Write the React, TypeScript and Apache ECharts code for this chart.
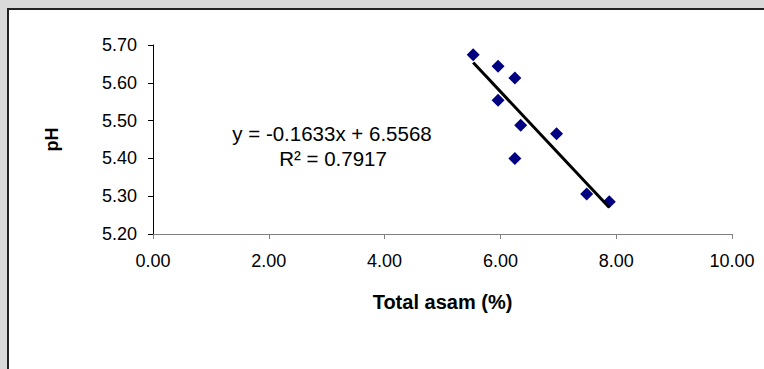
import React, { useEffect, useRef } from "react";
import * as echarts from "echarts";

const totalAsam = [5.53, 5.96, 6.25, 5.96, 6.35, 6.97, 6.25, 7.49, 7.88];
const phValues = [5.674, 5.644, 5.613, 5.554, 5.488, 5.465, 5.4, 5.306, 5.285];
const slope = -0.1633;
const intercept = 6.5568;
const equationText = "y = -0.1633x + 6.5568";
const r2Text = "R² = 0.7917";

const OX = 9;
const OY = 10;

export default function App() {
  const ref = useRef<HTMLDivElement>(null);
  useEffect(() => {
    if (!ref.current) return;
    const chart = echarts.init(ref.current, null, { renderer: "svg" });
    const points = totalAsam.map((x, i) => [x, phValues[i]]);
    const xMin = Math.min(...totalAsam);
    const xMax = Math.max(...totalAsam);
    const trend = [
      [xMin, slope * xMin + intercept],
      [xMax, slope * xMax + intercept],
    ];
    const font = "Liberation Sans, Arial, sans-serif";
    chart.setOption({
      animation: false,
      backgroundColor: "#ffffff",
      grid: { left: 153 - OX, top: 45 - OY, right: 32, bottom: 135 },
      xAxis: {
        type: "value",
        min: 0,
        max: 10,
        interval: 2,
        name: "Total asam (%)",
        nameLocation: "middle",
        nameGap: 58,
        nameTextStyle: { fontFamily: font, fontSize: 20, fontWeight: "bold", color: "#000" },
        axisLine: { show: true, lineStyle: { color: "#808080", width: 1 } },
        axisTick: { show: true, inside: false, length: 5, lineStyle: { color: "#808080" } },
        axisLabel: {
          formatter: (v: number) => v.toFixed(2),
          fontFamily: font,
          fontSize: 18,
          color: "#000",
          margin: 18,
        },
        splitLine: { show: false },
      },
      yAxis: {
        type: "value",
        min: 5.2,
        max: 5.7,
        interval: 0.1,
        name: "pH",
        nameLocation: "middle",
        nameGap: 92,
        nameRotate: 90,
        nameTextStyle: { fontFamily: font, fontSize: 18, fontWeight: "bold", color: "#000" },
        axisLine: { show: true, lineStyle: { color: "#000", width: 1 } },
        axisTick: { show: true, inside: false, length: 5, lineStyle: { color: "#000" } },
        axisLabel: {
          formatter: (v: number) => v.toFixed(2),
          fontFamily: font,
          fontSize: 18,
          color: "#000",
          margin: 16,
        },
        splitLine: { show: false },
      },
      series: [
        {
          type: "scatter",
          data: points,
          symbol: "diamond",
          symbolSize: [13, 13],
          itemStyle: { color: "#000080", opacity: 1 },
          z: 2,
        },
        {
          type: "line",
          data: trend,
          showSymbol: false,
          symbol: "none",
          lineStyle: { color: "#000", width: 3 },
          z: 3,
        },
      ],
      graphic: [
        {
          type: "text",
          x: 332 - OX,
          y: 133 - OY,
          style: {
            text: equationText,
            fontFamily: font,
            fontSize: 20.5,
            fill: "#000",
            align: "center",
            verticalAlign: "middle",
          },
        },
        {
          type: "text",
          x: 333 - OX,
          y: 158 - OY,
          style: {
            text: r2Text,
            fontFamily: font,
            fontSize: 20.5,
            fill: "#000",
            align: "center",
            verticalAlign: "middle",
          },
        },
      ],
    });
    return () => chart.dispose();
  }, []);

  return (
    <div
      style={{
        position: "fixed",
        left: 0,
        top: 0,
        width: 764,
        height: 369,
        background: "#d9d9d9",
        overflow: "hidden",
      }}
    >
      <div
        style={{
          position: "absolute",
          left: 7,
          top: 8,
          width: 760,
          height: 365,
          background: "#ffffff",
          borderLeft: "2px solid #222",
          borderTop: "2px solid #222",
          boxSizing: "border-box",
        }}
      />
      <div
        ref={ref}
        style={{ position: "absolute", left: OX, top: OY, width: 764 - OX, height: 369 - OY }}
      />
    </div>
  );
}
